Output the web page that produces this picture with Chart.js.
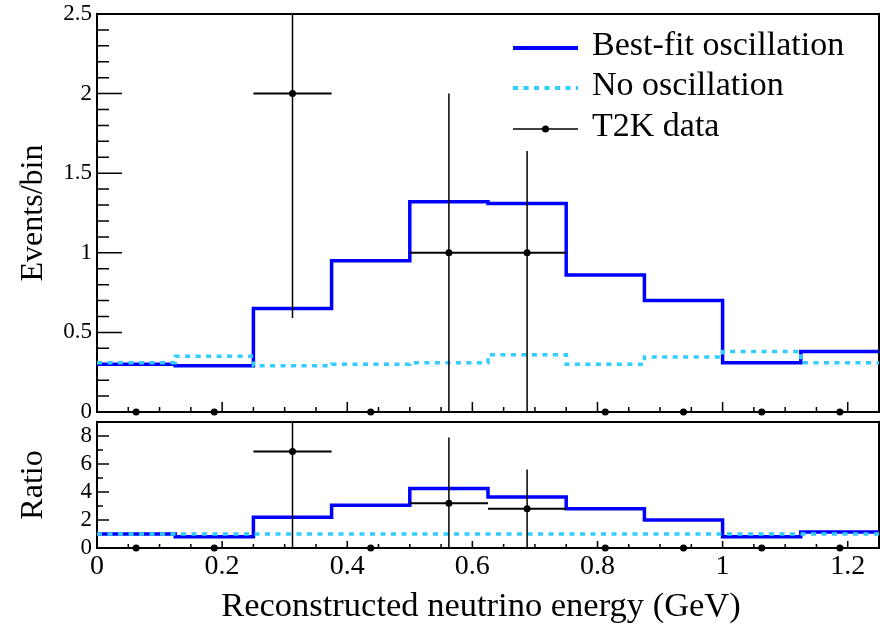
<!DOCTYPE html>
<html lang="en">
<head>
<meta charset="UTF-8">
<title>Reconstructed neutrino energy</title>
<script src="https://cdn.jsdelivr.net/npm/chart.js"></script>
<style>
  body { margin: 0; background: #fff; }
  #wrap { position: relative; width: 883px; height: 627px; }
  canvas { position: absolute; left: 0; }
</style>
</head>
<body>
<div id="wrap">
  <canvas id="mainChart" width="883" height="418" style="top:0"></canvas>
  <canvas id="ratioChart" width="883" height="211" style="top:416px"></canvas>
</div>
<script>
// binning (GeV)
const binEdges = [0, 0.125, 0.25, 0.375, 0.5, 0.625, 0.75, 0.875, 1.0, 1.125, 1.25];
const binCenters = [0.0625, 0.1875, 0.3125, 0.4375, 0.5625, 0.6875, 0.8125, 0.9375, 1.0625, 1.1875];

// top panel: events / bin
const bestFit = [0.30, 0.29, 0.65, 0.95, 1.32, 1.31, 0.86, 0.70, 0.31, 0.38];
const noOsc = [0.31, 0.35, 0.29, 0.30, 0.31, 0.36, 0.30, 0.345, 0.38, 0.31];
const dataEvents = [0, 0, 2, 0, 1, 1, 0, 0, 0, 0];
const dataErrLo = [0, 0, 1.41, 0, 1, 1, 0, 0, 0, 0];
const dataErrHi = [0, 0, 1.41, 0, 1, 0.64, 0, 0, 0, 0];

// bottom panel: ratio to no oscillation
const ratioBest = [1.0, 0.8, 2.2, 3.05, 4.25, 3.65, 2.8, 2.0, 0.8, 1.15];
const ratioNoOsc = [1, 1, 1, 1, 1, 1, 1, 1, 1, 1];
const ratioData = [0, 0, 6.9, 0, 3.2, 2.8, 0, 0, 0, 0];
const ratioErrLo = [0, 0, 6.9, 0, 3.2, 2.8, 0, 0, 0, 0];
const ratioErrHi = [0, 0, 4.9, 0, 4.7, 2.8, 0, 0, 0, 0];

// tick labels
const xTicks = [0, 0.2, 0.4, 0.6, 0.8, 1, 1.2];
const yTicksMain = [0, 0.5, 1, 1.5, 2, 2.5];
const yTicksRatio = [0, 2, 4, 6, 8];

const BLUE = '#0000ff';
const CYAN = '#33ccff';
const DASH = [5, 5.5];
const FONT = "'Liberation Serif', 'Times New Roman', serif";

Chart.defaults.font.family = FONT;
Chart.defaults.color = '#000';

// histogram as step line: value i covers [edge i, edge i+1]
function steps(values) {
    const pts = values.map((v, i) => ({ x: binEdges[i], y: v }));
    pts.push({ x: binEdges[binEdges.length - 1], y: values[values.length - 1] });
    return pts;
}

function points(values) {
    return binCenters.map((c, i) => ({ x: c, y: values[i] }));
}

// frame + inward ticks (ROOT style)
const frameTicks = {
    id: 'frameTicks',
    beforeDatasetsDraw(chart, args, o) {
        const { ctx, chartArea: a, scales: { x, y } } = chart;
        ctx.save();
        ctx.strokeStyle = '#000';
        ctx.lineWidth = 1.5;
        ctx.beginPath();
        for (let k = 1; k * 0.05 < 1.249; k++) {
            const px = x.getPixelForValue(k * 0.05);
            const len = k % 4 === 0 ? o.xMajor : o.xMinor;
            ctx.moveTo(px, a.bottom);
            ctx.lineTo(px, a.bottom - len);
        }
        for (let k = 1; k * o.yStep < y.max - 1e-9; k++) {
            const py = y.getPixelForValue(k * o.yStep);
            const len = k % o.yEvery === 0 ? o.yMajor : o.yMinor;
            ctx.moveTo(a.left, py);
            ctx.lineTo(a.left + len, py);
        }
        ctx.stroke();
        ctx.lineWidth = 2;
        ctx.strokeRect(a.left, a.top, a.width, a.height);
        ctx.restore();
    }
};

// error bars drawn just before the data points
const errorBars = {
    id: 'errorBars',
    beforeDatasetDraw(chart, args) {
        const ds = chart.data.datasets[args.index];
        if (!ds.errLo) return;
        const { ctx, chartArea: a, scales: { x, y } } = chart;
        ctx.save();
        ctx.beginPath();
        ctx.rect(a.left, a.top, a.width, a.height);
        ctx.clip();
        ctx.strokeStyle = '#000';
        ds.data.forEach((p, i) => {
            if (p.y <= 0) return;
            const px = x.getPixelForValue(p.x);
            const py = y.getPixelForValue(p.y);
            ctx.lineWidth = 1.5;
            ctx.beginPath();
            ctx.moveTo(px, y.getPixelForValue(p.y - ds.errLo[i]));
            ctx.lineTo(px, y.getPixelForValue(p.y + ds.errHi[i]));
            ctx.stroke();
            ctx.lineWidth = 2;
            ctx.beginPath();
            ctx.moveTo(x.getPixelForValue(p.x - ds.xErr), py);
            ctx.lineTo(x.getPixelForValue(p.x + ds.xErr), py);
            ctx.stroke();
        });
        ctx.restore();
    }
};

const histLegend = {
    id: 'histLegend',
    afterDraw(chart) {
        const ctx = chart.ctx;
        const x0 = 513, x1 = 578, tx = 592;
        const rows = [
            { y: 48, label: 'Best-fit oscillation', color: BLUE, width: 4, dash: [] },
            { y: 88, label: 'No oscillation', color: CYAN, width: 4, dash: DASH },
            { y: 129, label: 'T2K data', color: '#000', width: 1.5, dash: [], dot: true }
        ];
        ctx.save();
        rows.forEach(r => {
            ctx.strokeStyle = r.color;
            ctx.lineWidth = r.width;
            ctx.setLineDash(r.dash);
            ctx.beginPath();
            ctx.moveTo(x0, r.y);
            ctx.lineTo(x1, r.y);
            ctx.stroke();
            if (r.dot) {
                ctx.fillStyle = '#000';
                ctx.beginPath();
                ctx.arc((x0 + x1) / 2, r.y, 3.5, 0, Math.PI * 2);
                ctx.fill();
            }
            ctx.setLineDash([]);
            ctx.fillStyle = '#000';
            ctx.font = '34px ' + FONT;
            ctx.textAlign = 'left';
            ctx.textBaseline = 'middle';
            ctx.fillText(r.label, tx, r.y - 2);
        });
        ctx.restore();
    }
};

const xTitle = {
    id: 'xTitle',
    afterDraw(chart) {
        const ctx = chart.ctx;
        ctx.save();
        ctx.fillStyle = '#000';
        ctx.font = '34.5px ' + FONT;
        ctx.textAlign = 'center';
        ctx.textBaseline = 'middle';
        ctx.fillText('Reconstructed neutrino energy (GeV)', 481, 191);
        ctx.restore();
    }
};

function yScale(max, ticks, title) {
    return {
        type: 'linear', min: 0, max: max,
        afterFit: s => { s.width = 97; s.paddingTop = 0; s.paddingBottom = 0; },
        afterBuildTicks: s => { s.ticks = ticks.map(v => ({ value: v })); },
        grid: { display: false, drawTicks: false },
        border: { display: false },
        ticks: { padding: 5, font: { size: 23 }, color: '#000', callback: v => String(v) },
        title: { display: true, text: title, font: { size: 32 }, color: '#000', padding: { top: 14, bottom: 0 } }
    };
}

new Chart(document.getElementById('mainChart'), {
    type: 'line',
    data: {
        datasets: [
            { label: 'T2K data', data: points(dataEvents), showLine: false, pointRadius: 3.5,
              pointBackgroundColor: '#000', pointBorderWidth: 0, clip: false, order: 0,
              errLo: dataErrLo, errHi: dataErrHi, xErr: 0.0625 },
            { label: 'No oscillation', data: steps(noOsc), stepped: true, borderColor: CYAN,
              borderWidth: 3.5, borderDash: DASH, pointRadius: 0, order: 1 },
            { label: 'Best-fit oscillation', data: steps(bestFit), stepped: true, borderColor: BLUE,
              borderWidth: 3.5, pointRadius: 0, order: 2, borderJoinStyle: 'miter' }
        ]
    },
    options: {
        responsive: false, animation: false, events: [],
        layout: { padding: { top: 14, right: 3, bottom: 6, left: 0 } },
        plugins: {
            legend: { display: false }, tooltip: { enabled: false },
            frameTicks: { xMajor: 10, xMinor: 5, yStep: 0.1, yEvery: 5, yMajor: 25, yMinor: 12 }
        },
        scales: {
            x: { type: 'linear', display: false, min: 0, max: 1.25 },
            y: yScale(2.5, yTicksMain, 'Events/bin')
        }
    },
    plugins: [frameTicks, errorBars, histLegend]
});

new Chart(document.getElementById('ratioChart'), {
    type: 'line',
    data: {
        datasets: [
            { label: 'T2K data', data: points(ratioData), showLine: false, pointRadius: 3.5,
              pointBackgroundColor: '#000', pointBorderWidth: 0, clip: false, order: 0,
              errLo: ratioErrLo, errHi: ratioErrHi, xErr: 0.0625 },
            { label: 'No oscillation', data: steps(ratioNoOsc), stepped: true, borderColor: CYAN,
              borderWidth: 3.5, borderDash: DASH, pointRadius: 0, order: 1 },
            { label: 'Best-fit oscillation', data: steps(ratioBest), stepped: true, borderColor: BLUE,
              borderWidth: 3.5, pointRadius: 0, order: 2, borderJoinStyle: 'miter' }
        ]
    },
    options: {
        responsive: false, animation: false, events: [],
        layout: { padding: { top: 6, right: 3, bottom: 0, left: 0 } },
        plugins: {
            legend: { display: false }, tooltip: { enabled: false },
            frameTicks: { xMajor: 7, xMinor: 4, yStep: 1, yEvery: 2, yMajor: 12, yMinor: 6 }
        },
        scales: {
            x: {
                type: 'linear', min: 0, max: 1.25,
                afterFit: s => { s.height = 79; s.paddingLeft = 0; s.paddingRight = 0; },
                afterBuildTicks: s => { s.ticks = xTicks.map(v => ({ value: v })); },
                grid: { display: false, drawTicks: false },
                border: { display: false },
                ticks: { padding: 2, font: { size: 28 }, color: '#000', maxRotation: 0, callback: v => String(v) }
            },
            y: yScale(9, yTicksRatio, 'Ratio')
        }
    },
    plugins: [frameTicks, errorBars, xTitle]
});
</script>
</body>
</html>
